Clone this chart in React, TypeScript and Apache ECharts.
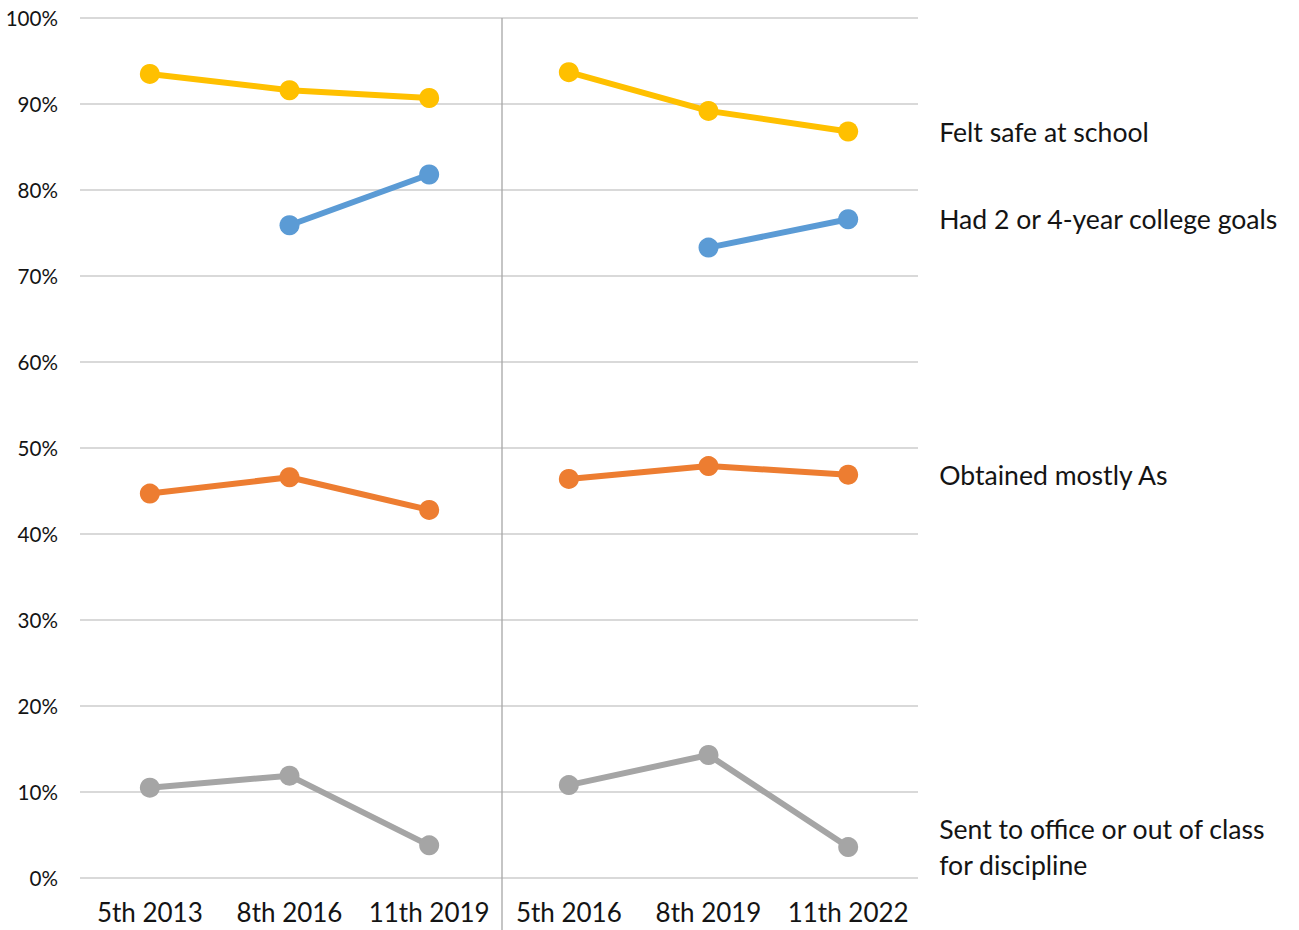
import React, { useEffect, useRef } from "react";
import * as echarts from "echarts";

const categories = ["5th 2013", "8th 2016", "11th 2019", "5th 2016", "8th 2019", "11th 2022"];

// Cohort A (first three waves) and cohort B (last three waves)
const safeA = [93.5, 91.6, 90.7, null, null, null];
const safeB = [null, null, null, 93.7, 89.2, 86.8];
const collegeA = [null, 75.9, 81.8, null, null, null];
const collegeB = [null, null, null, null, 73.3, 76.6];
const gradesA = [44.7, 46.6, 42.8, null, null, null];
const gradesB = [null, null, null, 46.4, 47.9, 46.9];
const disciplineA = [10.5, 11.9, 3.8, null, null, null];
const disciplineB = [null, null, null, 10.8, 14.3, 3.6];

// Boundary between the two cohorts, in category-slot units
const dividerAt = [3];

const FONT = "Lato, 'Open Sans', sans-serif";
const TEXT = "#141414";

export default function App() {
  const ref = useRef<HTMLDivElement>(null);

  useEffect(() => {
    if (!ref.current) return;
    const chart = echarts.init(ref.current, undefined, { renderer: "svg" });

    const endLabel = (text: string) => ({
      show: true,
      formatter: () => text,
      distance: 91,
      color: TEXT,
      fontSize: 26.6,
      fontFamily: FONT,
      lineHeight: 36,
      align: "left",
    });

    const mk = (name: string, data: (number | null)[], color: string, label?: string) => ({
      name,
      type: "line",
      data,
      xAxisIndex: 0,
      connectNulls: false,
      symbol: "circle",
      symbolSize: 20,
      lineStyle: { width: 6, color },
      itemStyle: { color },
      z: 3,
      endLabel: label ? endLabel(label) : { show: false },
    });

    chart.setOption({
      animation: false,
      grid: { left: 80, right: 381, top: 18, bottom: 52 },
      xAxis: [
        {
          type: "category",
          data: categories,
          boundaryGap: true,
          axisLine: { show: false },
          axisTick: { show: false },
          splitLine: { show: false },
          axisLabel: {
            color: TEXT,
            fontSize: 26,
            fontFamily: FONT,
            margin: 21,
            interval: 0,
          },
        },
        {
          type: "value",
          min: 0,
          max: categories.length,
          show: false,
        },
      ],
      yAxis: {
        type: "value",
        min: 0,
        max: 100,
        interval: 10,
        axisLine: { show: false },
        axisTick: { show: false },
        splitLine: { lineStyle: { color: "#d9d9d9", width: 2 } },
        axisLabel: {
          color: TEXT,
          fontSize: 20.6,
          fontFamily: FONT,
          margin: 22,
          formatter: (v: number) => `${v}%`,
        },
      },
      series: [
        {
          type: "custom",
          xAxisIndex: 1,
          yAxisIndex: 0,
          clip: false,
          silent: true,
          z: 1,
          data: dividerAt.map((x) => [x, 100]),
          renderItem: (_params: any, api: any) => {
            const x = api.value(0);
            const top = api.coord([x, 100]);
            const bottom = api.coord([x, 0]);
            return {
              type: "line",
              shape: { x1: top[0] + 3, y1: top[1], x2: top[0] + 3, y2: bottom[1] + 52 },
              style: { stroke: "#a6a6a6", lineWidth: 1.3 },
            };
          },
        },
        mk("Felt safe at school", safeA, "#FFC000"),
        mk("Felt safe at school", safeB, "#FFC000", "Felt safe at school"),
        mk("Had 2 or 4-year college goals", collegeA, "#5B9BD5"),
        mk("Had 2 or 4-year college goals", collegeB, "#5B9BD5", "Had 2 or 4-year college goals"),
        mk("Obtained mostly As", gradesA, "#ED7D31"),
        mk("Obtained mostly As", gradesB, "#ED7D31", "Obtained mostly As"),
        mk("Sent to office or out of class for discipline", disciplineA, "#A5A5A5"),
        mk(
          "Sent to office or out of class for discipline",
          disciplineB,
          "#A5A5A5",
          "Sent to office or out of class\nfor discipline"
        ),
      ],
    });

    return () => chart.dispose();
  }, []);

  return (
    <div
      ref={ref}
      style={{ position: "absolute", left: 0, top: 0, width: 1299, height: 930 }}
    />
  );
}
